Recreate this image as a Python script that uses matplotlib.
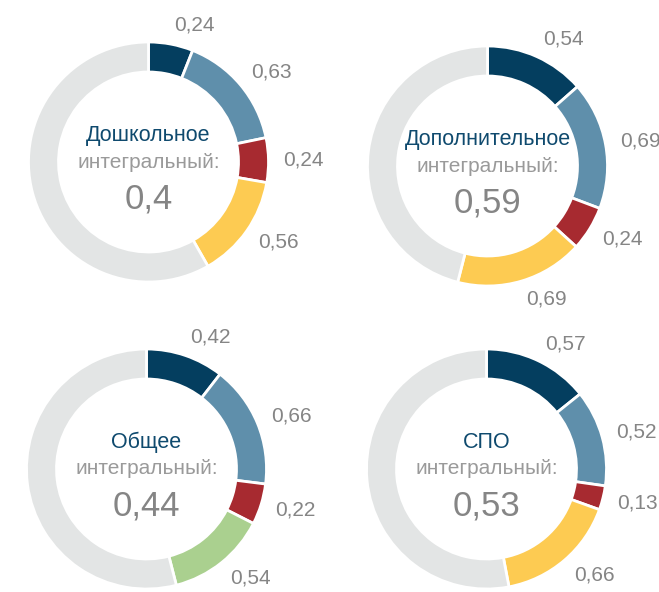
import numpy as np
import matplotlib.pyplot as plt

plt.rcParams['font.family'] = ['Liberation Sans', 'DejaVu Sans']

# per-level indicator scores and the overall (integral) value
titles = ['Дошкольное', 'Дополнительное', 'Общее', 'СПО']
integral = ['0,4', '0,59', '0,44', '0,53']
scores = [
    [0.24, 0.63, 0.24, 0.56],
    [0.54, 0.69, 0.24, 0.69],
    [0.42, 0.66, 0.22, 0.54],
    [0.57, 0.52, 0.13, 0.66],
]
palettes = [
    ['#043e5f', '#5f8fab', '#a72a30', '#fdcb52'],
    ['#043e5f', '#5f8fab', '#a72a30', '#fdcb52'],
    ['#043e5f', '#5f8fab', '#a72a30', '#aad08f'],
    ['#043e5f', '#5f8fab', '#a72a30', '#fdcb52'],
]
GREY = '#e3e5e5'
LABEL_GREY = '#858585'
TITLE_BLUE = '#0f4a6e'

W, H = 659, 592
R_PX = 120  # outer radius in pixels
centers = [(148.5, 162), (487.5, 166), (146.5, 469), (486.5, 469)]
BOX = 150

fig = plt.figure(figsize=(W / 100, H / 100), dpi=100)


def fmt(v):
    return f'{v:.2f}'.replace('.', ',')


def donut(ax, vals, colors, title, total):
    n = len(vals)
    parts = [v / n for v in vals]
    rest = 1 - sum(parts)
    ax.pie(parts + [rest], colors=colors + [GREY], startangle=90,
           counterclock=False, radius=1.0,
           wedgeprops=dict(width=0.25, edgecolor='white', linewidth=2))
    # value labels outside each coloured wedge
    start = 0.0
    for v, p in zip(vals, parts):
        mid = (start + p / 2) * 2 * np.pi
        start += p
        r = 1.12
        x, y = r * np.sin(mid), 1.16 * np.cos(mid)
        ax.text(x, y, fmt(v), ha='left', va='center', fontsize=15,
                color=LABEL_GREY)
    ax.text(0, 0.22, title, ha='center', va='center', fontsize=15.5,
            color=TITLE_BLUE)
    ax.text(0, 0.0, 'интегральный:', ha='center', va='center', fontsize=15,
            color='#9a9a9a')
    ax.text(0, -0.31, total, ha='center', va='center', fontsize=25,
            color=LABEL_GREY)
    lim = BOX / R_PX
    ax.set_xlim(-lim, lim)
    ax.set_ylim(-lim, lim)
    ax.set_aspect('equal')
    ax.axis('off')


for (cx, cy), vals, cols, t, tot in zip(centers, scores, palettes, titles, integral):
    ax = fig.add_axes([(cx - BOX) / W, 1 - (cy + BOX) / H, 2 * BOX / W, 2 * BOX / H])
    donut(ax, vals, cols, t, tot)

fig.savefig('out.png', dpi=100)
